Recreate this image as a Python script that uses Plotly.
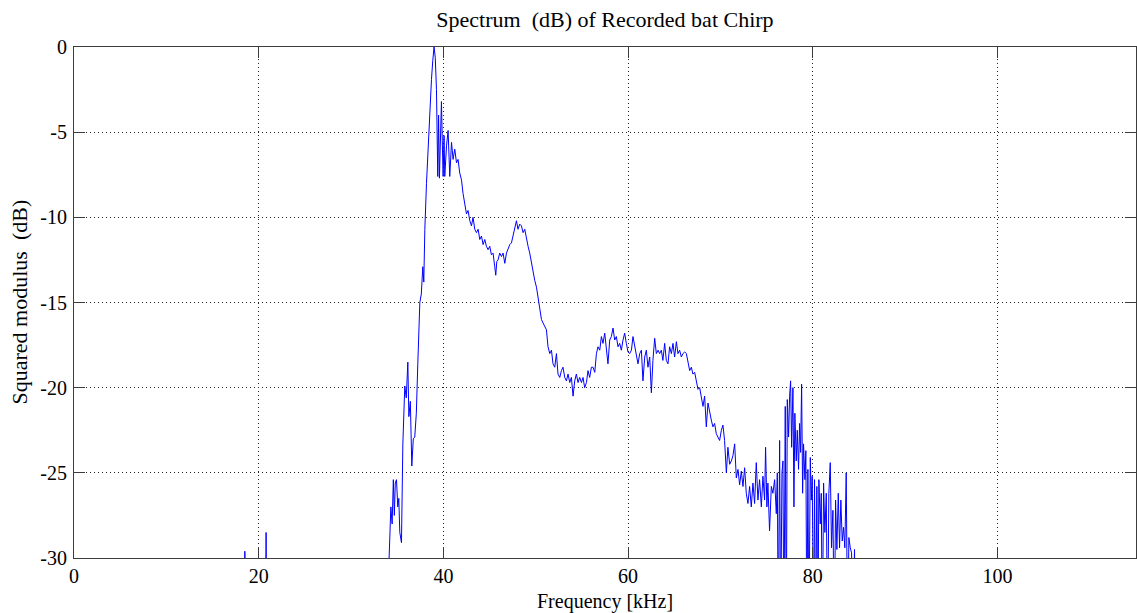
import plotly.graph_objects as go

# ---- data (frequency in kHz, level in dB) ----
freq_khz = [
    0.00, 18.40, 18.50, 18.60, 20.70, 20.80, 20.90, 34.00,
    34.09, 34.31, 34.45, 34.58, 34.69, 34.79, 34.92, 35.06, 35.17, 35.28,
    35.46, 35.61, 35.82, 35.98, 36.15, 36.26, 36.42, 36.58, 36.74, 36.90,
    37.07, 37.23, 37.45, 37.61, 37.77, 37.88, 37.99, 38.17, 38.42, 38.71,
    38.85, 38.99, 39.12, 39.25, 39.39, 39.48, 39.57, 39.66, 39.79, 39.88,
    39.97, 40.07, 40.15, 40.34, 40.51, 40.69, 40.88, 41.05, 41.23, 41.42,
    41.59, 41.77, 41.96, 42.13, 42.32, 42.50, 42.67, 42.86, 43.04, 43.21,
    43.40, 43.58, 43.76, 43.94, 44.12, 44.30, 44.48, 44.66, 44.84, 45.02,
    45.20, 45.38, 45.56, 45.67, 45.78, 45.92, 46.10, 46.29, 46.46, 46.65,
    46.83, 47.00, 47.19, 47.37, 47.54, 47.73, 47.91, 48.08, 48.27, 48.45,
    48.63, 48.81, 48.99, 49.17, 49.35, 49.53, 49.71, 49.89, 50.08, 50.25,
    50.43, 50.62, 50.79, 50.97, 51.16, 51.33, 51.52, 51.70, 51.87, 52.06,
    52.24, 52.41, 52.60, 52.78, 52.95, 53.14, 53.32, 53.50, 53.68, 53.86,
    54.04, 54.22, 54.40, 54.58, 54.76, 54.95, 55.12, 55.30, 55.49, 55.66,
    55.84, 56.03, 56.20, 56.39, 56.57, 56.74, 56.93, 57.11, 57.28, 57.47,
    57.65, 57.82, 58.01, 58.19, 58.37, 58.55, 58.73, 58.91, 59.09, 59.27,
    59.45, 59.63, 59.81, 59.99, 60.17, 60.36, 60.53, 60.71, 60.90, 61.07,
    61.26, 61.44, 61.61, 61.80, 61.98, 62.15, 62.34, 62.52, 62.69, 62.88,
    63.06, 63.24, 63.42, 63.60, 63.77, 63.96, 64.14, 64.32, 64.50, 64.69,
    64.86, 65.04, 65.23, 65.40, 65.58, 65.77, 65.94, 66.13, 66.31, 66.48,
    66.67, 66.85, 67.02, 67.21, 67.39, 67.57, 67.75, 67.93, 68.11, 68.29,
    68.47, 68.65, 68.83, 69.01, 69.19, 69.37, 69.55, 69.73, 69.91, 70.10,
    70.27, 70.45, 70.64, 70.81, 71.00, 71.18, 71.35, 71.54, 71.72, 71.90,
    72.08, 72.26, 72.44, 72.62, 72.80, 72.98, 73.16, 73.34, 73.52, 73.70,
    73.88, 74.06, 74.24, 74.43, 74.60, 74.78, 74.89, 75.03, 75.14, 75.32,
    75.51, 75.68, 75.87, 76.05, 76.16, 76.26, 76.41, 76.52, 76.66, 76.77,
    76.87, 77.02, 77.13, 77.24, 77.38, 77.49, 77.60, 77.71, 77.85, 77.96,
    78.06, 78.21, 78.32, 78.46, 78.57, 78.68, 78.79, 78.90, 79.00, 79.15,
    79.25, 79.36, 79.47, 79.58, 79.73, 79.84, 79.94, 80.09, 80.19, 80.30,
    80.44, 80.55, 80.66, 80.81, 80.92, 81.03, 81.17, 81.31, 81.46, 81.60,
    81.74, 81.89, 82.03, 82.18, 82.33, 82.47, 82.61, 82.76, 82.90, 83.04,
    83.19, 83.33, 83.47, 83.62, 83.77, 83.91, 84.06, 84.20, 84.34, 84.52,
    84.71, 86.00,
]
level_db = [
    -40.0, -40.0, -29.6, -40.0, -40.0, -28.5, -40.0, -40.0,
    -30.5, -27.0, -28.0, -25.4, -27.5, -25.6, -25.4, -27.0, -26.5, -28.5,
    -29.1, -23.3, -19.9, -20.6, -18.5, -21.7, -20.8, -24.6, -23.0, -22.9,
    -21.5, -18.6, -15.0, -14.5, -12.9, -13.8, -10.7, -8.0, -4.9, -1.9,
    -0.8, 0.0, -0.6, -2.5, -7.6, -4.0, -7.7, -5.0, -3.2, -5.5,
    -7.6, -5.2, -7.6, -5.8, -4.9, -7.6, -5.6, -6.6, -6.0, -6.8,
    -6.6, -7.4, -7.8, -8.6, -9.2, -9.8, -9.6, -10.2, -10.5, -10.0,
    -10.7, -10.9, -10.7, -11.3, -11.1, -11.6, -11.3, -11.7, -11.9, -11.7,
    -12.2, -12.1, -12.9, -13.4, -12.6, -12.5, -12.1, -12.3, -12.1, -12.7,
    -12.1, -11.9, -11.6, -11.5, -11.1, -10.5, -10.2, -10.7, -10.4, -10.5,
    -10.9, -10.7, -11.3, -11.7, -12.1, -12.7, -13.3, -13.7, -14.1, -14.7,
    -15.1, -16.0, -16.2, -16.4, -16.6, -17.6, -18.0, -17.8, -18.6, -18.8,
    -18.0, -19.2, -19.4, -19.0, -18.8, -19.4, -19.6, -19.2, -19.7, -19.4,
    -20.5, -19.6, -19.2, -19.7, -19.4, -19.7, -19.4, -20.0, -19.7, -19.0,
    -19.4, -18.8, -18.8, -19.1, -18.0, -17.6, -17.8, -17.0, -17.4, -16.8,
    -17.8, -18.6, -17.2, -17.0, -16.5, -17.2, -17.0, -17.6, -17.4, -17.8,
    -17.2, -16.8, -17.4, -17.9, -18.0, -17.8, -17.0, -17.6, -18.0, -18.6,
    -18.0, -17.8, -19.6, -18.2, -17.8, -18.8, -18.2, -20.3, -18.4, -17.1,
    -18.0, -17.8, -18.0, -17.8, -18.4, -17.4, -18.4, -18.6, -17.6, -18.0,
    -17.4, -18.2, -17.3, -18.0, -17.8, -18.2, -18.0, -17.9, -18.0, -18.6,
    -19.0, -18.8, -19.2, -19.1, -19.6, -20.1, -20.0, -20.7, -21.1, -20.5,
    -22.3, -20.9, -21.5, -21.9, -22.3, -22.1, -22.7, -22.9, -23.1, -22.5,
    -22.2, -23.1, -25.0, -23.5, -24.5, -24.3, -24.0, -23.3, -25.3, -24.8,
    -25.7, -24.9, -25.8, -24.7, -26.2, -26.8, -25.8, -27.0, -25.6, -26.8,
    -24.4, -26.6, -25.4, -27.0, -25.2, -26.6, -23.5, -27.0, -25.6, -28.4,
    -25.8, -26.2, -25.4, -27.4, -25.0, -35.0, -23.1, -35.0, -25.0, -24.3,
    -35.0, -21.1, -35.0, -20.7, -22.9, -20.5, -19.6, -23.5, -20.0, -27.0,
    -21.5, -24.3, -22.5, -24.8, -22.1, -23.8, -19.8, -26.2, -23.3, -25.4,
    -23.7, -35.0, -24.8, -35.0, -24.1, -26.6, -25.2, -35.0, -25.4, -35.0,
    -25.8, -35.0, -25.4, -28.0, -26.2, -35.0, -25.6, -28.5, -26.2, -35.0,
    -26.2, -24.4, -29.4, -27.2, -35.0, -26.6, -29.5, -26.2, -29.4, -26.6,
    -29.0, -28.2, -29.4, -25.0, -35.0, -28.8, -29.4, -29.7, -35.0, -29.5,
    -40.0, -40.0,
]

x_tick_values = [0, 20, 40, 60, 80, 100]
x_tick_labels = ["0", "20", "40", "60", "80", "100"]
y_tick_values = [-30, -25, -20, -15, -10, -5, 0]
y_tick_labels = ["-30", "-25", "-20", "-15", "-10", "-5", "0"]

title_text = "Spectrum  (dB) of Recorded bat Chirp"
x_label = "Frequency [kHz]"
y_label = "Squared modulus  (dB)"

SERIF = "Liberation Serif"
AXIS_COLOR = "#3c3c3c"

fig = go.Figure(
    go.Scatter(
        x=freq_khz,
        y=level_db,
        mode="lines",
        line=dict(color="#0000ff", width=1),
        showlegend=False,
        hoverinfo="skip",
    )
)

axis_common = dict(
    showline=True,
    linecolor=AXIS_COLOR,
    linewidth=1,
    mirror="ticks",
    ticks="inside",
    ticklen=11,
    tickwidth=1,
    tickcolor=AXIS_COLOR,
    showgrid=True,
    gridcolor="#222222",
    gridwidth=1,
    griddash="1px,3px",
    zeroline=False,
    tickfont=dict(family=SERIF, size=20, color="#000000"),
)

fig.update_xaxes(
    range=[0, 115],
    tickmode="array",
    tickvals=x_tick_values,
    ticktext=x_tick_labels,
    ticklabelstandoff=0,
    **axis_common,
)
fig.update_yaxes(
    range=[-30, 0],
    tickmode="array",
    tickvals=y_tick_values,
    ticktext=y_tick_labels,
    ticklabelstandoff=2,
    **axis_common,
)

fig.update_layout(
    width=1137,
    height=613,
    margin=dict(l=74, r=1, t=47, b=55),
    paper_bgcolor="#ffffff",
    plot_bgcolor="#ffffff",
    font=dict(family=SERIF, color="#000000"),
    title=dict(
        text=title_text,
        font=dict(family=SERIF, size=22, color="#000000"),
        x=0.5,
        xref="paper",
        xanchor="center",
        y=1 - 19 / 613,
        yref="container",
        yanchor="middle",
    ),
    annotations=[
        dict(
            text=x_label,
            xref="paper", yref="paper",
            x=0.5, y=0,
            xanchor="center", yanchor="middle",
            yshift=-43,
            showarrow=False,
            font=dict(family=SERIF, size=20, color="#000000"),
        ),
        dict(
            text=y_label,
            xref="paper", yref="paper",
            x=0, y=0.5,
            xanchor="center", yanchor="middle",
            xshift=-55,
            textangle=-90,
            showarrow=False,
            font=dict(family=SERIF, size=22, color="#000000"),
        ),
    ],
)

fig.write_html("out.html")
